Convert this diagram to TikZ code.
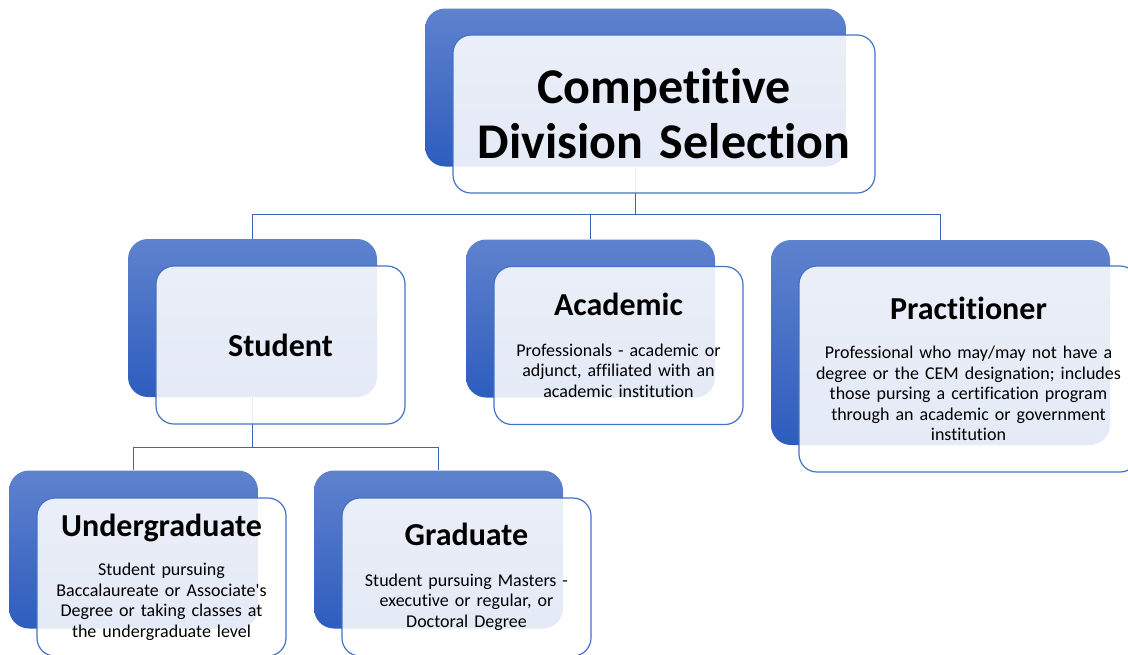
\documentclass[tikz,border=0pt]{standalone}
\usepackage{fontspec}
\setmainfont{Carlito}[Ligatures={NoCommon,NoRequired,NoDiscretionary},Contextuals={NoAlternate}]
\usetikzlibrary{positioning}
\definecolor{tiletop}{RGB}{95,130,205}
\definecolor{tilebot}{RGB}{45,93,190}
\definecolor{cardline}{RGB}{68,114,196}
\definecolor{linkblue}{RGB}{60,100,180}
\newcommand\headfont{\fontsize{32}{38}\selectfont\bfseries}
\tikzset{
  tile/.style={rounded corners=20pt,top color=tiletop,bottom color=tilebot,draw=none,
    minimum width=249pt,minimum height=158pt,inner sep=0pt},
  card/.style={draw=cardline,line width=1.2pt,rounded corners=18pt,fill=white,
    fill opacity=0.875,text opacity=1,minimum width=249pt,minimum height=158pt,
    align=center,text width=237pt,font=\fontsize{18}{20.5}\selectfont},
  link/.style={draw=linkblue,line width=1.4pt},
}
\begin{document}
\begin{tikzpicture}[x=1pt,y=-1pt]
\useasboundingbox (0,0) rectangle (1128,654);
% back tiles
\node[tile,minimum width=421pt] (selbg) at (635.5,87.5) {};
\node[tile] (stubg) at (252.5,318) {};
\node[tile] (acabg) at (590.5,318.5) {};
\node[tile,minimum width=339pt,minimum height=205pt] (prabg) at (940.5,342.5) {};
\node[tile] (undbg) at (133.5,549.5) {};
\node[tile] (gradbg) at (438.5,549.5) {};
% connectors
\coordinate[below=48pt of selbg.south] (fork1);
\coordinate[below=50pt of stubg.south] (fork2);
\draw[link] (selbg.south) -- (fork1) -| (stubg.north);
\draw[link] (fork1) -| (acabg.north);
\draw[link] (fork1) -| (prabg.north);
\draw[link] (stubg.south) -- (fork2) -| (undbg.north);
\draw[link] (fork2) -| (gradbg.north);
% front cards
\node[card,minimum width=422pt,text width=410pt,font=\fontsize{50}{55}\selectfont\bfseries]
  (sel) at ([shift={(28.5,26.5)}]selbg.center) {Competitive\\Division Selection};
\node[card] (stu) at ([shift={(28,27)}]stubg.center) {\headfont Student};
\node[card] (aca) at ([shift={(28,27)}]acabg.center)
  {{\headfont Academic}\par\vspace{20pt}Professionals - academic or\\
   adjunct, affiliated with an\\academic institution};
\node[card,minimum width=339pt,minimum height=206pt,text width=325pt] (pra)
  at ([shift={(28,26.5)}]prabg.center)
  {{\headfont Practitioner}\par\vspace{19pt}Professional who may/may not have a\\
   degree or the CEM designation; includes\\those pursing a certification program\\
   through an academic or government\\institution};
\node[card] (und) at ([shift={(28,27.5)}]undbg.center)
  {{\headfont Undergraduate}\par\vspace{19pt}Student pursuing\\
   Baccalaureate or Associate\textquotesingle s\\Degree or taking classes at\\the undergraduate level};
\node[card] (grad) at ([shift={(28,27.5)}]gradbg.center)
  {{\headfont Graduate}\par\vspace{20pt}Student pursuing Masters -\\
   executive or regular, or\\Doctoral Degree};
\end{tikzpicture}
\end{document}
